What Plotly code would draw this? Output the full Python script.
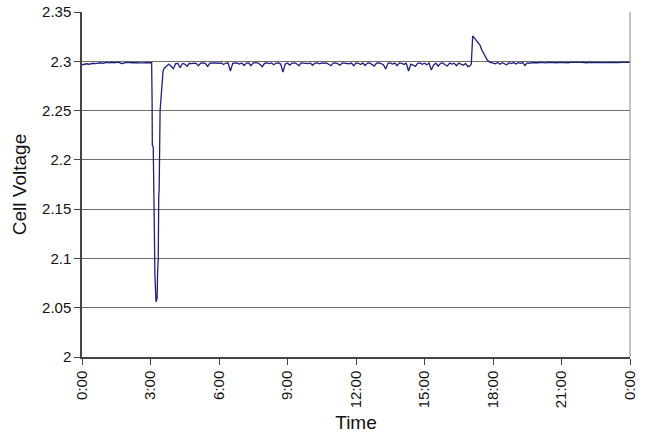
import plotly.graph_objects as go

# ---- data (time in hours since 0:00, cell voltage in V) ----
# Segment A: 0:00 - 3:00 (31 points)
hours_a = [0.0, 0.1, 0.2, 0.3, 0.4, 0.5, 0.6, 0.7, 0.8, 0.9,
           1.0, 1.1, 1.2, 1.3, 1.4, 1.5, 1.6, 1.7, 1.8, 1.9,
           2.0, 2.1, 2.2, 2.3, 2.4, 2.5, 2.6, 2.7, 2.8, 2.9,
           3.0]
volt_a = [2.2965, 2.2968, 2.2975, 2.2970, 2.2978, 2.2980, 2.2976, 2.2982, 2.2985, 2.2980,
          2.2986, 2.2988, 2.2984, 2.2990, 2.2985, 2.2988, 2.2992, 2.2980, 2.2976, 2.2988,
          2.2990, 2.2987, 2.2985, 2.2989, 2.2986, 2.2983, 2.2987, 2.2984, 2.2986, 2.2983,
          2.2985]

# Segment B: the voltage dip around 3:00 (20 points)
hours_b = [3.05, 3.07, 3.08, 3.12, 3.14, 3.17, 3.19, 3.22, 3.24, 3.27,
           3.29, 3.31, 3.34, 3.36, 3.38, 3.42, 3.45, 3.50, 3.55, 3.60]
volt_b = [2.2985, 2.2600, 2.2150, 2.2130, 2.1300, 2.1280, 2.0850, 2.0700, 2.0560, 2.0580,
          2.0600, 2.0850, 2.1000, 2.1620, 2.1700, 2.2500, 2.2620, 2.2820, 2.2900, 2.2930]

# Segment C: 3:42 - 17:00 baseline (134 points)
hours_c = [3.7, 3.8, 3.9, 4.0, 4.1, 4.2, 4.3, 4.4, 4.5, 4.6,
           4.7, 4.8, 4.9, 5.0, 5.1, 5.2, 5.3, 5.4, 5.5, 5.6,
           5.7, 5.8, 5.9, 6.0, 6.1, 6.2, 6.3, 6.4, 6.5, 6.6,
           6.7, 6.8, 6.9, 7.0, 7.1, 7.2, 7.3, 7.4, 7.5, 7.6,
           7.7, 7.8, 7.9, 8.0, 8.1, 8.2, 8.3, 8.4, 8.5, 8.6,
           8.7, 8.8, 8.9, 9.0, 9.1, 9.2, 9.3, 9.4, 9.5, 9.6,
           9.7, 9.8, 9.9, 10.0, 10.1, 10.2, 10.3, 10.4, 10.5, 10.6,
           10.7, 10.8, 10.9, 11.0, 11.1, 11.2, 11.3, 11.4, 11.5, 11.6,
           11.7, 11.8, 11.9, 12.0, 12.1, 12.2, 12.3, 12.4, 12.5, 12.6,
           12.7, 12.8, 12.9, 13.0, 13.1, 13.2, 13.3, 13.4, 13.5, 13.6,
           13.7, 13.8, 13.9, 14.0, 14.1, 14.2, 14.3, 14.4, 14.5, 14.6,
           14.7, 14.8, 14.9, 15.0, 15.1, 15.2, 15.3, 15.4, 15.5, 15.6,
           15.7, 15.8, 15.9, 16.0, 16.1, 16.2, 16.3, 16.4, 16.5, 16.6,
           16.7, 16.8, 16.9, 17.0]
volt_c = [2.2955, 2.2972, 2.2950, 2.2925, 2.2976, 2.2978, 2.2935, 2.2978, 2.2972, 2.2950,
          2.2980, 2.2976, 2.2982, 2.2980, 2.2955, 2.2982, 2.2983, 2.2978, 2.2948, 2.2982,
          2.2983, 2.2980, 2.2983, 2.2980, 2.2983, 2.2968, 2.2982, 2.2983, 2.2900, 2.2980,
          2.2983, 2.2982, 2.2972, 2.2983, 2.2958, 2.2982, 2.2983, 2.2955, 2.2983, 2.2980,
          2.2983, 2.2968, 2.2945, 2.2982, 2.2983, 2.2976, 2.2983, 2.2965, 2.2982, 2.2983,
          2.2972, 2.2890, 2.2972, 2.2983, 2.2962, 2.2982, 2.2983, 2.2975, 2.2955, 2.2983,
          2.2982, 2.2983, 2.2976, 2.2983, 2.2960, 2.2982, 2.2983, 2.2975, 2.2983, 2.2980,
          2.2983, 2.2970, 2.2955, 2.2982, 2.2983, 2.2976, 2.2960, 2.2983, 2.2980, 2.2983,
          2.2975, 2.2982, 2.2955, 2.2983, 2.2980, 2.2968, 2.2983, 2.2958, 2.2982, 2.2983,
          2.2968, 2.2952, 2.2982, 2.2983, 2.2976, 2.2965, 2.2922, 2.2980, 2.2983, 2.2972,
          2.2982, 2.2955, 2.2983, 2.2980, 2.2968, 2.2980, 2.2902, 2.2972, 2.2962, 2.2948,
          2.2980, 2.2983, 2.2970, 2.2980, 2.2965, 2.2982, 2.2912, 2.2962, 2.2980, 2.2950,
          2.2980, 2.2983, 2.2965, 2.2952, 2.2982, 2.2972, 2.2980, 2.2955, 2.2982, 2.2968,
          2.2960, 2.2978, 2.2945, 2.2955]

# Segment D: spike after 17:00 (11 points)
hours_d = [17.05, 17.11, 17.18, 17.26, 17.35, 17.43, 17.50, 17.58, 17.66, 17.75, 17.85]
volt_d = [2.2975, 2.3257, 2.3235, 2.3206, 2.3190, 2.3165, 2.3120, 2.3084, 2.3050, 2.3013, 2.2992]

# Segment E: 17:54 - 0:00 (62 points)
hours_e = [17.9, 18.0, 18.1, 18.2, 18.3, 18.4, 18.5, 18.6, 18.7, 18.8,
           18.9, 19.0, 19.1, 19.2, 19.3, 19.4, 19.5, 19.6, 19.7, 19.8,
           19.9, 20.0, 20.1, 20.2, 20.3, 20.4, 20.5, 20.6, 20.7, 20.8,
           20.9, 21.0, 21.1, 21.2, 21.3, 21.4, 21.5, 21.6, 21.7, 21.8,
           21.9, 22.0, 22.1, 22.2, 22.3, 22.4, 22.5, 22.6, 22.7, 22.8,
           22.9, 23.0, 23.1, 23.2, 23.3, 23.4, 23.5, 23.6, 23.7, 23.8,
           23.9, 24.0]
volt_e = [2.2990, 2.2986, 2.2975, 2.2988, 2.2970, 2.2986, 2.2978, 2.2965, 2.2985, 2.2976,
          2.2987, 2.2972, 2.2986, 2.2980, 2.2987, 2.2958, 2.2984, 2.2980, 2.2987, 2.2984,
          2.2988, 2.2985, 2.2989, 2.2986, 2.2984, 2.2988, 2.2986, 2.2989, 2.2987, 2.2985,
          2.2988, 2.2986, 2.2990, 2.2987, 2.2985, 2.2989, 2.2987, 2.2990, 2.2986, 2.2988,
          2.2990, 2.2987, 2.2985, 2.2989, 2.2988, 2.2990, 2.2986, 2.2989, 2.2987, 2.2990,
          2.2988, 2.2986, 2.2989, 2.2987, 2.2990, 2.2988, 2.2986, 2.2989, 2.2988, 2.2990,
          2.2988, 2.2989]

tick_hours = [0, 3, 6, 9, 12, 15, 18, 21, 24]
tick_labels = ["0:00", "3:00", "6:00", "9:00", "12:00", "15:00", "18:00", "21:00", "0:00"]
y_ticks = [2, 2.05, 2.1, 2.15, 2.2, 2.25, 2.3, 2.35]
y_labels = ["2", "2.05", "2.1", "2.15", "2.2", "2.25", "2.3", "2.35"]

hours = hours_a + hours_b + hours_c + hours_d + hours_e
voltage = volt_a + volt_b + volt_c + volt_d + volt_e

fig = go.Figure()
fig.add_trace(go.Scatter(
    x=hours, y=voltage, mode="lines",
    line=dict(color="#1f1f7e", width=1.3),
    showlegend=False,
))

font_family = "Liberation Sans, Arial, sans-serif"

fig.update_layout(
    width=647, height=440,
    margin=dict(l=82, r=17, t=12, b=83, autoexpand=False),
    paper_bgcolor="white", plot_bgcolor="white",
    font=dict(family=font_family, size=16, color="#111111"),
    xaxis=dict(
        range=[0, 24], tickmode="array", tickvals=tick_hours, ticktext=tick_labels,
        tickangle=-90, ticks="outside", ticklen=6, tickcolor="#444444",
        showgrid=False, zeroline=False, showline=True, linecolor="#444444", linewidth=1.5,
        tickfont=dict(size=15), automargin=False,
        title=dict(text="Time", font=dict(size=19), standoff=8),
    ),
    yaxis=dict(
        range=[2, 2.35], tickmode="array", tickvals=y_ticks, ticktext=y_labels,
        ticks="outside", ticklen=6, tickcolor="#444444",
        showgrid=True, gridcolor="#6e6e6e", gridwidth=1,
        zeroline=False, showline=True, linecolor="#444444", linewidth=1.5,
        tickfont=dict(size=15), automargin=False,
        title=dict(text="Cell Voltage", font=dict(size=19), standoff=10),
    ),
    shapes=[dict(type="line", xref="paper", yref="paper", x0=1, x1=1, y0=0, y1=1,
                 line=dict(color="#8a8a8a", width=1))],
)

fig.write_html("out.html")
